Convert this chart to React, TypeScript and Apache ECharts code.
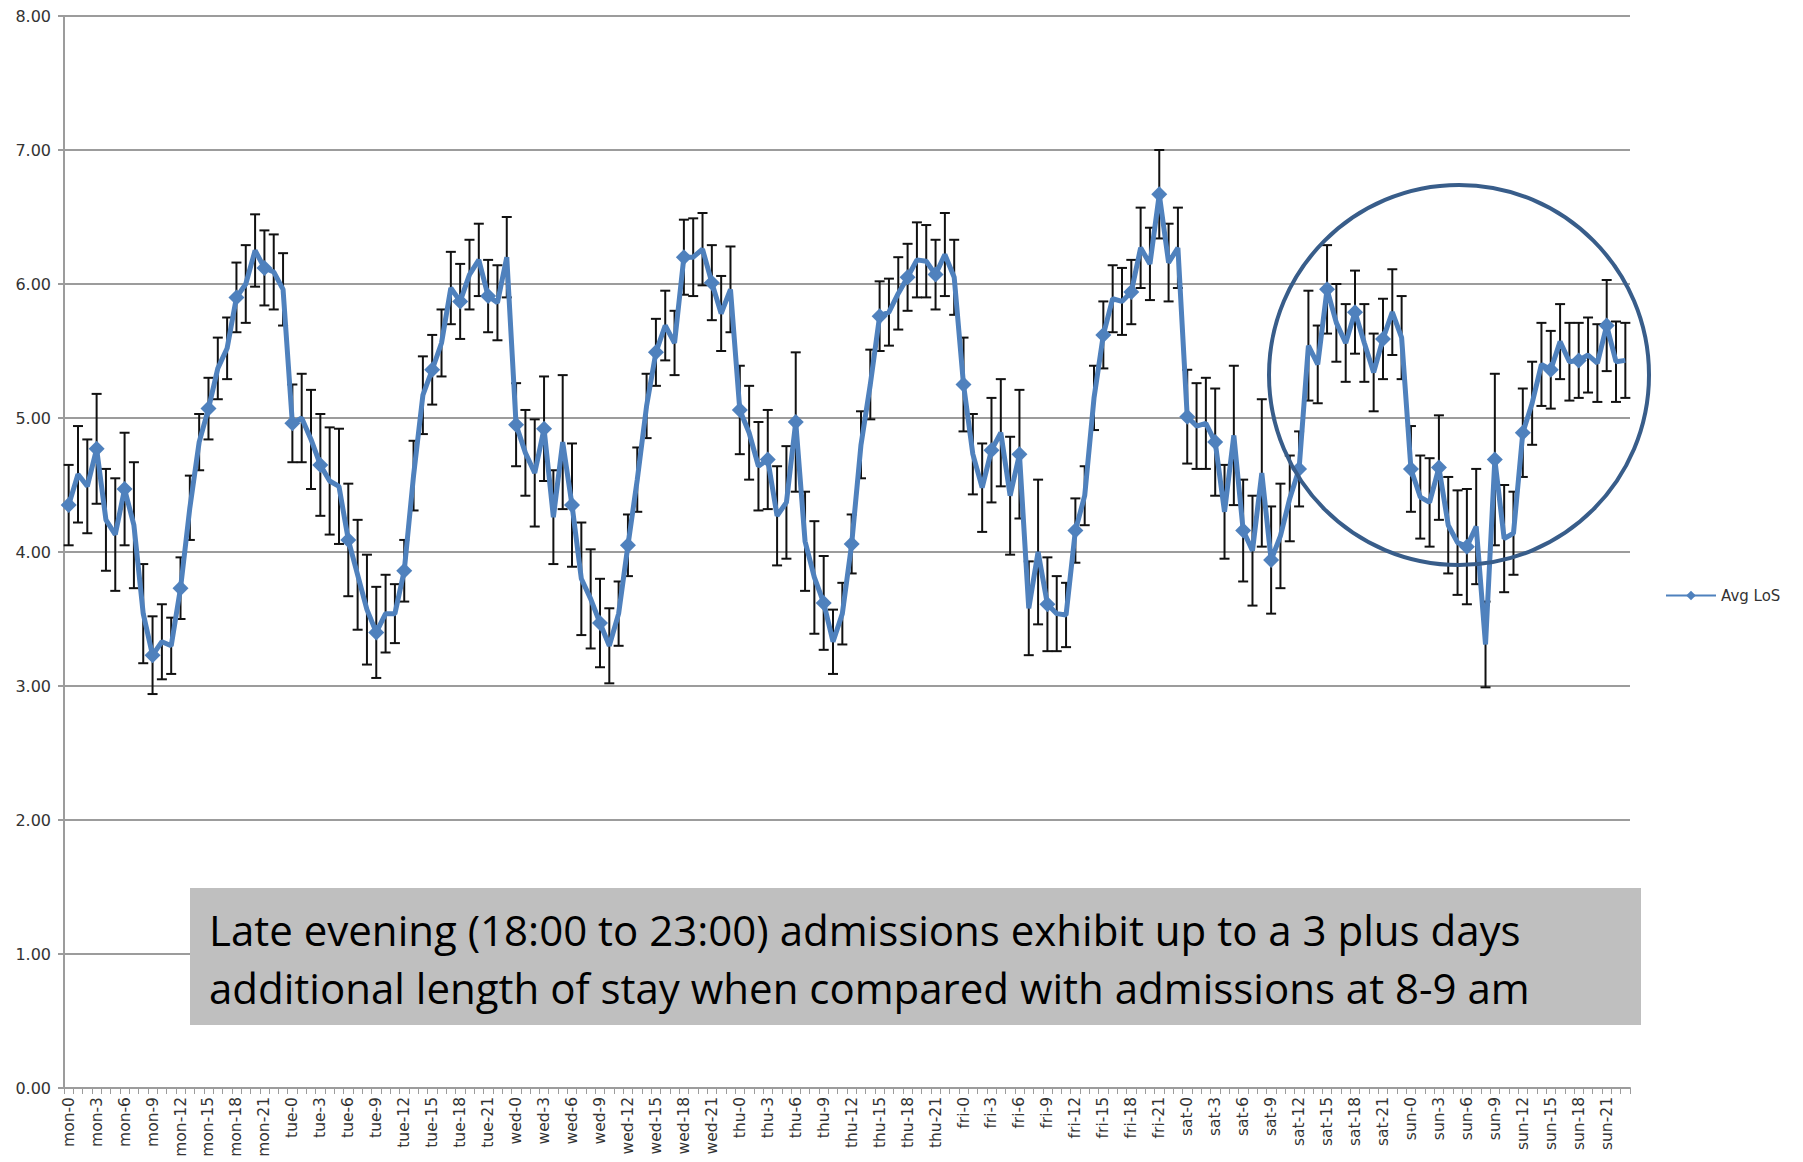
import React, { useEffect, useRef } from "react";
import * as echarts from "echarts";

const days = ["mon", "tue", "wed", "thu", "fri", "sat", "sun"];
const hours = [0,1,2,3,4,5,6,7,8,9,10,11,12,13,14,15,16,17,18,19,20,21,22,23];
const categories = days.flatMap((d) => hours.map((h) => `${d}-${h}`));

const monLoS = [4.35,4.58,4.49,4.77,4.24,4.13,4.47,4.20,3.54,3.23,3.33,3.30,3.73,4.33,4.82,5.07,5.37,5.52,5.90,6.00,6.25,6.12,6.09,5.96];
const tueLoS = [4.96,5.00,4.84,4.65,4.53,4.49,4.09,3.83,3.57,3.40,3.54,3.54,3.86,4.57,5.17,5.36,5.56,5.97,5.87,6.07,6.18,5.91,5.86,6.20];
const wedLoS = [4.95,4.74,4.59,4.92,4.26,4.82,4.35,3.80,3.65,3.47,3.30,3.54,4.05,4.54,5.09,5.49,5.69,5.56,6.20,6.20,6.26,6.01,5.78,5.96];
const thuLoS = [5.06,4.89,4.64,4.69,4.27,4.37,4.97,4.08,3.81,3.62,3.33,3.54,4.06,4.80,5.25,5.76,5.79,5.93,6.05,6.18,6.17,6.07,6.22,6.05];
const friLoS = [5.25,4.73,4.48,4.76,4.89,4.42,4.73,3.58,4.00,3.61,3.54,3.53,4.16,4.42,5.15,5.62,5.89,5.87,5.94,6.27,6.15,6.67,6.16,6.27];
const satLoS = [5.01,4.94,4.96,4.82,4.30,4.87,4.16,4.01,4.59,3.94,4.12,4.40,4.62,5.54,5.40,5.96,5.71,5.56,5.79,5.56,5.34,5.59,5.79,5.60];
const sunLoS = [4.62,4.41,4.37,4.63,4.20,4.07,4.04,4.19,3.31,4.69,4.10,4.14,4.89,5.11,5.40,5.36,5.57,5.42,5.43,5.47,5.41,5.69,5.42,5.43];

const monErr = [0.30,0.36,0.35,0.41,0.38,0.42,0.42,0.47,0.37,0.29,0.28,0.21,0.23,0.24,0.21,0.23,0.23,0.23,0.26,0.29,0.27,0.28,0.28,0.27];
const tueErr = [0.29,0.33,0.37,0.38,0.40,0.43,0.42,0.41,0.41,0.34,0.29,0.22,0.23,0.26,0.29,0.26,0.25,0.27,0.28,0.26,0.27,0.27,0.28,0.30];
const wedErr = [0.31,0.32,0.40,0.39,0.35,0.50,0.46,0.42,0.37,0.33,0.28,0.24,0.23,0.24,0.24,0.25,0.26,0.24,0.28,0.29,0.27,0.28,0.28,0.32];
const thuErr = [0.33,0.35,0.33,0.37,0.37,0.42,0.52,0.37,0.42,0.35,0.24,0.23,0.22,0.25,0.26,0.26,0.25,0.27,0.25,0.28,0.27,0.26,0.31,0.28];
const friErr = [0.35,0.30,0.33,0.39,0.40,0.44,0.48,0.35,0.54,0.35,0.28,0.24,0.24,0.22,0.24,0.25,0.25,0.25,0.24,0.30,0.27,0.33,0.29,0.30];
const satErr = [0.35,0.32,0.34,0.40,0.35,0.52,0.38,0.41,0.55,0.40,0.39,0.32,0.28,0.41,0.29,0.33,0.29,0.29,0.31,0.29,0.29,0.30,0.32,0.31];
const sunErr = [0.32,0.31,0.33,0.39,0.36,0.39,0.43,0.43,0.32,0.64,0.40,0.31,0.33,0.31,0.31,0.29,0.28,0.29,0.28,0.28,0.29,0.34,0.30,0.28];

const seriesName = "Avg LoS";
const noteLines = [
  "Late evening (18:00 to 23:00) admissions exhibit up to a 3 plus days",
  "additional length of stay when compared with admissions at 8-9 am",
];

const avgLoS = [...monLoS, ...tueLoS, ...wedLoS, ...thuLoS, ...friLoS, ...satLoS, ...sunLoS];
const avgErr = [...monErr, ...tueErr, ...wedErr, ...thuErr, ...friErr, ...satErr, ...sunErr];

export default function App() {
  const ref = useRef<HTMLDivElement>(null);
  useEffect(() => {
    if (!ref.current) return;
    const chart = echarts.init(ref.current, null, { renderer: "svg" });
    const errData = avgLoS.map((v, i) => [i, +(v - avgErr[i]).toFixed(3), +(v + avgErr[i]).toFixed(3)]);
    const gridColor = "#9c9c9c";
    const option: any = {
      animation: false,
      backgroundColor: "#ffffff",
      grid: { left: 64, right: 173, top: 16, bottom: 74, containLabel: false },
      legend: {
        data: [seriesName],
        left: 1660,
        top: 583,
        itemWidth: 50,
        itemHeight: 12,
        itemGap: 4,
        textStyle: { color: "#333", fontSize: 15, fontFamily: "DejaVu Sans" },
      },
      xAxis: {
        type: "category",
        data: categories,
        boundaryGap: true,
        axisLine: { lineStyle: { color: gridColor, width: 2 } },
        axisTick: { show: true, interval: 0, length: 6, lineStyle: { color: gridColor, width: 1 } },
        axisLabel: {
          interval: 2,
          rotate: 90,
          fontSize: 15.5,
          fontFamily: "DejaVu Sans",
          color: "#333",
          margin: 9,
        },
        splitLine: { show: false },
      },
      yAxis: {
        type: "value",
        min: 0,
        max: 8,
        interval: 1,
        axisLine: { show: true, lineStyle: { color: gridColor, width: 2 } },
        axisTick: { show: true, length: 6, lineStyle: { color: gridColor, width: 2 } },
        axisLabel: {
          formatter: (v: number) => v.toFixed(2),
          fontSize: 16,
          fontFamily: "DejaVu Sans",
          color: "#333",
          margin: 13,
        },
        splitLine: { lineStyle: { color: gridColor, width: 2 } },
      },
      series: [
        {
          type: "custom",
          name: "err",
          z: 1,
          data: errData,
          encode: { x: 0, y: [1, 2] },
          renderItem: (params: any, api: any) => {
            const x = api.value(0);
            const lo = api.coord([x, api.value(1)]);
            const hi = api.coord([x, api.value(2)]);
            const hw = 5;
            const style = { stroke: "#111111", lineWidth: 2 };
            return {
              type: "group",
              children: [
                { type: "line", shape: { x1: hi[0], y1: hi[1], x2: lo[0], y2: lo[1] }, style },
                { type: "line", shape: { x1: hi[0] - hw, y1: hi[1], x2: hi[0] + hw, y2: hi[1] }, style },
                { type: "line", shape: { x1: lo[0] - hw, y1: lo[1], x2: lo[0] + hw, y2: lo[1] }, style },
              ],
            };
          },
        },
        {
          type: "line",
          name: seriesName,
          z: 3,
          data: avgLoS,
          symbol: "diamond",
          symbolSize: 16,
          showSymbol: true,
          lineStyle: { color: "#4F81BD", width: 5 },
          itemStyle: { color: "#4F81BD" },
        },
      ],
      graphic: [
        {
          type: "ellipse",
          z: 100,
          shape: { cx: 1459, cy: 375, rx: 190, ry: 190 },
          style: { fill: "none", stroke: "#385D8A", lineWidth: 4 },
        },
        {
          type: "rect",
          z: 100,
          shape: { x: 190, y: 888, width: 1451, height: 137 },
          style: { fill: "#BFBFBF" },
        },
        {
          type: "text",
          z: 101,
          x: 209,
          y: 929,
          style: { text: noteLines[0], fill: "#000", font: "42px 'Open Sans'", verticalAlign: "middle" },
        },
        {
          type: "text",
          z: 101,
          x: 209,
          y: 987,
          style: { text: noteLines[1], fill: "#000", font: "42px 'Open Sans'", verticalAlign: "middle" },
        },
      ],
    };
    chart.setOption(option);
    return () => chart.dispose();
  }, []);
  return (
    <div
      ref={ref}
      style={{ position: "fixed", left: 0, top: 0, width: 1803, height: 1162, background: "#fff" }}
    />
  );
}
